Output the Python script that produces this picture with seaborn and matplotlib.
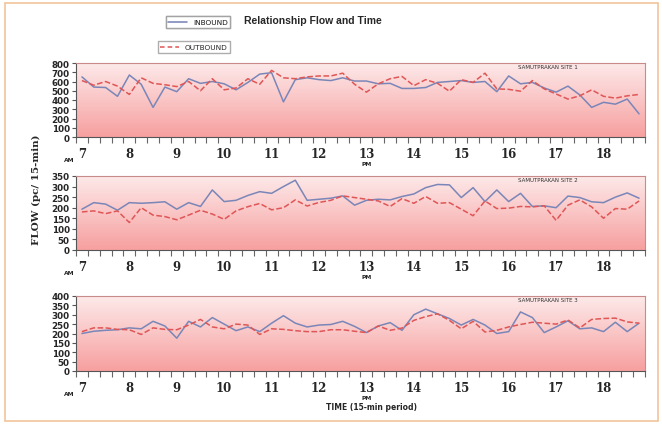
import numpy as np
import pandas as pd
import seaborn as sns
import matplotlib.pyplot as plt
from matplotlib.patches import Rectangle
from matplotlib.lines import Line2D
from matplotlib.colors import LinearSegmentedColormap

# 15-min periods from 7:00 to 18:45
hours = [7 + 0.25 * i for i in range(48)]
hour_labels = [str(h) for h in range(7, 19)]
sites = ["SAMUTPRAKAN SITE 1", "SAMUTPRAKAN SITE 2", "SAMUTPRAKAN SITE 3"]

site1_in = [650, 540, 535, 440, 670, 570, 320, 540, 490, 630, 580, 600,
            575, 510, 590, 680, 695, 380, 620, 640, 620, 610, 640, 605,
            605, 575, 580, 525, 525, 535, 590, 600, 610, 590, 600, 490,
            660, 575, 590, 530, 485, 550, 455, 320, 375, 355, 410, 250]
site1_out = [610, 560, 600, 550, 460, 640, 580, 565, 545, 600, 500, 630,
             510, 530, 630, 570, 720, 640, 630, 650, 660, 660, 690, 570,
             485, 575, 630, 655, 555, 620, 580, 495, 620, 590, 690, 520,
             515, 495, 610, 520, 465, 410, 445, 510, 440, 420, 445, 460]

site2_in = [193, 224, 217, 188, 224, 221, 224, 228, 193, 224, 206, 284,
            229, 235, 258, 276, 268, 300, 330, 235, 240, 245, 256, 212,
            235, 240, 237, 253, 265, 295, 310, 308, 248, 295, 229, 284,
            229, 268, 206, 209, 200, 255, 248, 228, 224, 250, 270, 245]
site2_out = [180, 185, 172, 185, 130, 200, 165, 158, 143, 165, 188, 170,
             145, 185, 205, 220, 190, 200, 237, 208, 225, 235, 256, 248,
             240, 232, 206, 243, 221, 253, 221, 224, 193, 162, 232, 196,
             198, 206, 204, 209, 140, 212, 237, 204, 150, 196, 193, 232]

site3_in = [200, 212, 217, 220, 230, 225, 265, 240, 175, 265, 235, 285,
            250, 215, 235, 210, 255, 295, 255, 235, 245, 248, 265, 238,
            205, 240, 258, 217, 300, 330, 305, 280, 245, 275, 245, 200,
            210, 315, 285, 205, 235, 268, 225, 230, 210, 260, 210, 255]
site3_out = [210, 230, 230, 222, 220, 195, 230, 222, 220, 245, 275, 235,
             225, 250, 245, 195, 225, 222, 215, 210, 210, 220, 220, 212,
             205, 240, 217, 229, 270, 290, 305, 270, 225, 265, 208, 217,
             235, 248, 260, 255, 250, 272, 230, 275, 280, 282, 262, 255]

inbound = [site1_in, site2_in, site3_in]
outbound = [site1_out, site2_out, site3_out]
ymax = [800, 350, 400]
ystep = [100, 50, 50]

sns.set_style("ticks")
plt.rcParams['font.family'] = ['DejaVu Sans']

W, H = 662, 427
fig = plt.figure(figsize=(W / 100, H / 100), dpi=100)

# pixel boxes (top, bottom) of the three panels
boxes = [(64, 138), (177, 251), (297, 372)]
left, right = 76, 645

grad = LinearSegmentedColormap.from_list("pinkgrad", ["#f7a0a0", "#fde9e9"])
in_color = "#7a86b8"
out_color = "#e05555"

for k in range(3):
    top, bot = boxes[k]
    ax = fig.add_axes([left / W, 1 - bot / H, (right - left) / W, (bot - top) / H])
    df = pd.DataFrame({"time": hours, "inbound": inbound[k], "outbound": outbound[k]})

    ax.imshow(np.linspace(0, 1, 100).reshape(-1, 1)[::-1], cmap=grad,
              extent=[0, 1, 0, 1], transform=ax.transAxes, aspect="auto", zorder=0)

    sns.lineplot(data=df, x="time", y="inbound", ax=ax, color=in_color, lw=1.1, zorder=3)
    sns.lineplot(data=df, x="time", y="outbound", ax=ax, color=out_color, lw=1.1,
                 dashes=(3, 2), linestyle="--", zorder=3)

    ax.set_xlim(6.875, 18.875)
    ax.set_ylim(0, ymax[k])
    ax.set_xlabel("")
    ax.set_ylabel("")

    ax.set_yticks(np.arange(0, ymax[k] + 1, ystep[k]))
    ax.tick_params(axis="y", labelsize=6.3, length=3, width=0.8, pad=1.5, color="#555555")
    for t in ax.get_yticklabels():
        t.set_fontweight("bold")

    ax.set_xticks(range(7, 19))
    ax.set_xticklabels(hour_labels, fontsize=8.5, fontweight="bold", family="DejaVu Serif")
    ax.set_xticks(np.arange(6.875, 18.9, 0.25), minor=True)
    ax.tick_params(axis="x", which="major", length=0, pad=7)
    ax.tick_params(axis="x", which="minor", length=4, width=0.8, color="#666666")

    for side in ["top", "right"]:
        ax.spines[side].set_color("#c98a8a")
        ax.spines[side].set_linewidth(0.8)
    ax.spines["left"].set_color("#555555")
    ax.spines["bottom"].set_color("#555555")

    ax.text(0.83, 0.985, sites[k], transform=ax.transAxes, fontsize=4, ha="center",
            va="top", color="#333333")
    ax.text(6.74, -0.27 * ymax[k], "AM", fontsize=4.3, fontweight="bold", ha="center",
            va="top", clip_on=False)
    ax.text(13, -0.32 * ymax[k], "PM", fontsize=4.3, fontweight="bold", ha="center",
            va="top", clip_on=False)

fig.text(36 / W, 1 - 190 / H, "FLOW (pc/ 15-min)", rotation=90, ha="center", va="center",
         fontsize=7.5, fontweight="bold", family="DejaVu Serif")
fig.text(372 / W, 1 - 408 / H, "TIME (15-min period)", ha="center", va="center",
         fontsize=5.5, fontweight="bold")
fig.text(313 / W, 1 - 21 / H, "Relationship Flow and Time", ha="center", va="center",
         fontsize=7.5, fontweight="bold", family="Liberation Sans")

# two separate legend boxes
leg1 = fig.legend(handles=[Line2D([], [], color=in_color, lw=1.1)], labels=["INBOUND"],
                  loc="center", bbox_to_anchor=(198 / W, 1 - 23 / H), fontsize=5.3,
                  frameon=True, fancybox=False, edgecolor="#999999", handlelength=2.5,
                  borderpad=0.35)
fig.legend(handles=[Line2D([], [], color=out_color, lw=1.1, ls=(0, (3, 2)))],
           labels=["OUTBOUND"], loc="center", bbox_to_anchor=(194 / W, 1 - 48 / H),
           fontsize=5.3, frameon=True, fancybox=False, edgecolor="#999999",
           handlelength=2.5, borderpad=0.35)
fig.add_artist(leg1)

# outer frame
fig.add_artist(Rectangle((5 / W, 5 / H), 653 / W, 418 / H, transform=fig.transFigure,
                         fill=False, edgecolor="#f2c49a", lw=1.2))

fig.savefig("out.png", dpi=100)
